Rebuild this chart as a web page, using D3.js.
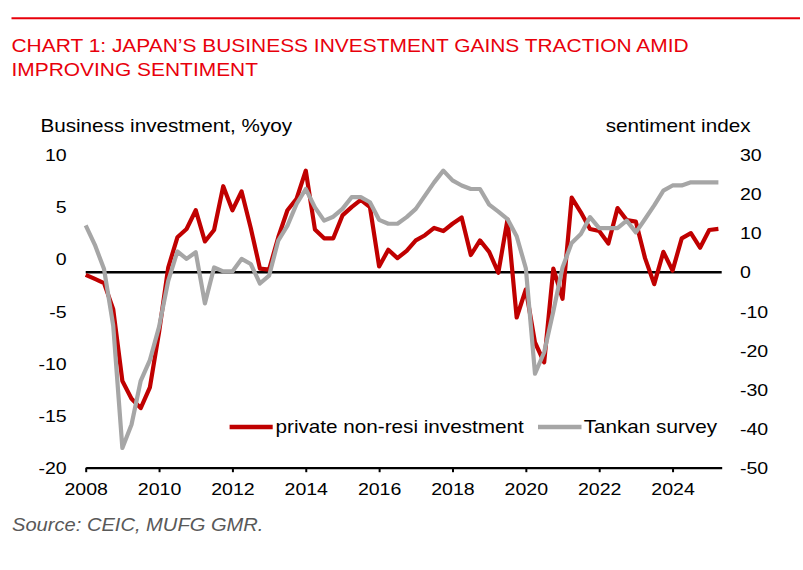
<!DOCTYPE html>
<html>
<head>
<meta charset="utf-8">
<script src="https://cdn.jsdelivr.net/npm/d3@7"></script>
<style>
body { margin: 0; background: #fff; }
text { font-family: "Liberation Sans", Arial, sans-serif; }
</style>
</head>
<body>
<div id="chart-area"></div>
<script>
const quarters = [
    "2008Q1","2008Q2","2008Q3","2008Q4","2009Q1","2009Q2","2009Q3","2009Q4",
    "2010Q1","2010Q2","2010Q3","2010Q4","2011Q1","2011Q2","2011Q3","2011Q4",
    "2012Q1","2012Q2","2012Q3","2012Q4","2013Q1","2013Q2","2013Q3","2013Q4",
    "2014Q1","2014Q2","2014Q3","2014Q4","2015Q1","2015Q2","2015Q3","2015Q4",
    "2016Q1","2016Q2","2016Q3","2016Q4","2017Q1","2017Q2","2017Q3","2017Q4",
    "2018Q1","2018Q2","2018Q3","2018Q4","2019Q1","2019Q2","2019Q3","2019Q4",
    "2020Q1","2020Q2","2020Q3","2020Q4","2021Q1","2021Q2","2021Q3","2021Q4",
    "2022Q1","2022Q2","2022Q3","2022Q4","2023Q1","2023Q2","2023Q3","2023Q4",
    "2024Q1","2024Q2","2024Q3","2024Q4","2025Q1","2025Q2"
];

// private non-resi investment, %yoy (left axis)
const investment = [
    -1.5, -1.9, -2.3, -4.8, -11.7, -13.4, -14.3, -12.3,
    -7.0, -0.8, 2.1, 2.9, 4.7, 1.7, 2.8, 7.0,
    4.7, 6.5, 3.0, -0.9, -1.0, 2.1, 4.7, 5.8,
    8.5, 2.85, 2.0, 2.0, 4.2, 5.0, 5.7, 5.0,
    -0.7, 0.9, 0.1, 0.8, 1.8, 2.3, 3.0, 2.7,
    3.4, 4.0, 0.4, 1.8, 0.7, -1.3, 3.8, -5.6,
    -2.9, -8.0, -9.9, -0.9, -3.8, 5.9, 4.5, 2.9,
    2.7, 1.5, 4.9, 3.75, 3.6, 0.1, -2.4, 0.7,
    -1.1, 2.0, 2.5, 1.1, 2.8, 2.9
];

// Tankan survey, sentiment index (right axis)
const tankan = [
    12, 7, 0.8, -13.7, -45, -39, -27.8, -22.5,
    -14, -2.2, 5.3, 3.4, 5.1, -8.0, 1.2, 0.2,
    0.2, 3.4, 2.1, -2.9, -0.9, 8.1, 11.9, 17.5,
    21.3, 16.6, 13.2, 14.2, 16.2, 19.2, 19.2, 17.9,
    13.4, 12.4, 12.4, 14.1, 16.2, 19.6, 23.0, 26.0,
    23.5, 22.2, 21.3, 21.3, 17.3, 15.5, 13.6, 9.2,
    1.0, -26, -20.5, -10, 1.2, 7.5, 9.8, 14.1,
    11.3, 11.3, 11.3, 13.2, 10.2, 13.6, 17.1, 20.9,
    22.2, 22.2, 23, 23, 23, 23
];

const xTickLabels = ["2008", "2010", "2012", "2014", "2016", "2018", "2020", "2022", "2024"];
const leftTicks = [10, 5, 0, -5, -10, -15, -20];
const rightTicks = [30, 20, 10, 0, -10, -20, -30, -40, -50];

const w = 803;
const h = 570;
const sx = 1.15;   // text in the original is a little wider than Arial
const red = "#c00000";
const grey = "#a6a6a6";
const titleRed = "#e8000b";

const toYear = (q) => +q.slice(0, 4) + (+q.slice(5) - 1) / 4;
const dates = quarters.map(toYear);

const xScale = d3.scaleLinear()
    .domain([2008, 2025.34])
    .range([85.7, 721.7]);

const yLeft = d3.scaleLinear()
    .domain([-20, 10])
    .range([467.5, 155]);

const yRight = d3.scaleLinear()
    .domain([-50, 30])
    .range([467.5, 155]);

const svg = d3.select("#chart-area")
    .append("svg")
    .attr("width", w)
    .attr("height", h);

const addText = (x, y, str, size, opts = {}) => {
    return svg.append("text")
        .attr("transform", "translate(" + x + "," + y + ") scale(" + sx + ",1)")
        .attr("font-size", size)
        .attr("fill", opts.fill || "#000")
        .attr("font-style", opts.italic ? "italic" : null)
        .attr("text-anchor", opts.anchor || "start")
        .text(str);
}

// header
svg.append("line")
    .attr("x1", 11.5).attr("x2", 800)
    .attr("y1", 18.3).attr("y2", 18.3)
    .attr("stroke", titleRed)
    .attr("stroke-width", 2);

addText(11.5, 51.7, "CHART 1: JAPAN\u2019S BUSINESS INVESTMENT GAINS TRACTION AMID", 18.2, { fill: titleRed });
addText(11.5, 76, "IMPROVING SENTIMENT", 18.2, { fill: titleRed });

addText(40.4, 132, "Business investment, %yoy", 18);
addText(750.5, 132, "sentiment index", 18, { anchor: "end" });

// axes (plain hyphen for negatives, like the original)
const plain = (d) => String(d);

const leftAxis = svg.append("g")
    .attr("transform", "translate(66.7,0)")
    .call(d3.axisLeft(yLeft).tickValues(leftTicks).tickFormat(plain).tickSize(0).tickPadding(0));

const rightAxis = svg.append("g")
    .attr("transform", "translate(740,0)")
    .call(d3.axisRight(yRight).tickValues(rightTicks).tickFormat(plain).tickSize(0).tickPadding(0));

[leftAxis, rightAxis].forEach((g) => {
    g.select(".domain").remove();
    g.selectAll("text")
        .attr("x", 0)
        .attr("dy", "0.34em")
        .attr("font-size", 17)
        .attr("font-family", "Liberation Sans, Arial, sans-serif")
        .attr("fill", "#000")
        .attr("transform", "scale(" + sx + ",1)");
});

const xAxis = svg.append("g")
    .attr("transform", "translate(0,467.7)")
    .call(d3.axisBottom(xScale)
        .tickValues(xTickLabels.map(Number))
        .tickFormat(plain)
        .tickSizeInner(4.5)
        .tickSizeOuter(0));

xAxis.select(".domain")
    .attr("stroke", "#000")
    .attr("stroke-width", 2.2);
xAxis.selectAll(".tick line")
    .attr("stroke", "#000")
    .attr("stroke-width", 2);
xAxis.selectAll("text")
    .attr("y", 27.3)
    .attr("dy", 0)
    .attr("font-size", 17)
    .attr("font-family", "Liberation Sans, Arial, sans-serif")
    .attr("fill", "#000")
    .attr("transform", "scale(" + sx + ",1)");

// zero line of the sentiment axis
svg.append("line")
    .attr("x1", xScale.range()[0])
    .attr("x2", xScale.range()[1])
    .attr("y1", yRight(0))
    .attr("y2", yRight(0))
    .attr("stroke", "#000")
    .attr("stroke-width", 2.6);

// series
const invLine = d3.line()
    .x((d, i) => xScale(dates[i]))
    .y((d) => yLeft(d));

const tankanLine = d3.line()
    .x((d, i) => xScale(dates[i]))
    .y((d) => yRight(d));

svg.append("path")
    .datum(investment)
    .attr("d", invLine)
    .attr("fill", "none")
    .attr("stroke", red)
    .attr("stroke-width", 4.2)
    .attr("stroke-linejoin", "round");

svg.append("path")
    .datum(tankan)
    .attr("d", tankanLine)
    .attr("fill", "none")
    .attr("stroke", grey)
    .attr("stroke-width", 4.2)
    .attr("stroke-linejoin", "round");

// legend
const legendY = 427;
svg.append("line")
    .attr("x1", 229.6).attr("x2", 272.7)
    .attr("y1", legendY).attr("y2", legendY)
    .attr("stroke", red)
    .attr("stroke-width", 4.5);
addText(275.5, legendY + 6.3, "private non-resi investment", 18);

svg.append("line")
    .attr("x1", 538).attr("x2", 581.5)
    .attr("y1", legendY).attr("y2", legendY)
    .attr("stroke", grey)
    .attr("stroke-width", 4.5);
addText(583.7, legendY + 6.3, "Tankan survey", 18);

// source
addText(12, 531, "Source: CEIC, MUFG GMR.", 17.5, { fill: "#595959", italic: true });
</script>
</body>
</html>
